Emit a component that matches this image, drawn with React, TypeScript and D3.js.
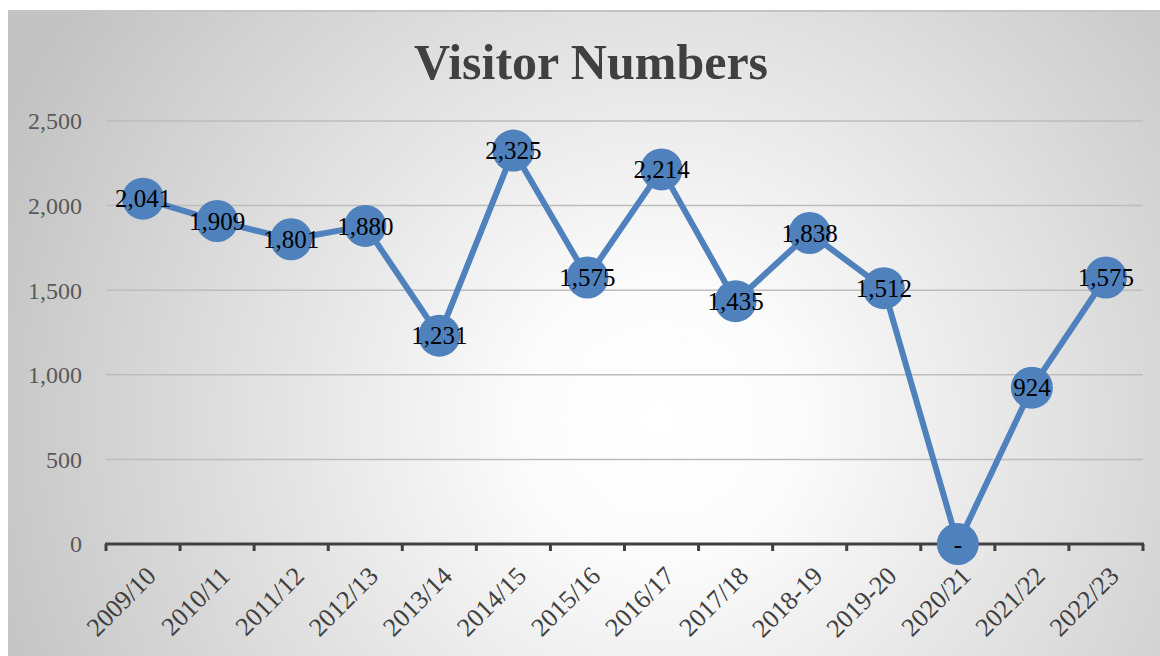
import React from 'react';
import * as d3 from 'd3';

const seasons = ['2009/10', '2010/11', '2011/12', '2012/13', '2013/14', '2014/15', '2015/16', '2016/17', '2017/18', '2018-19', '2019-20', '2020/21', '2021/22', '2022/23'];
const visitors = [2041, 1909, 1801, 1880, 1231, 2325, 1575, 2214, 1435, 1838, 1512, 0, 924, 1575];
const yTicks = [0, 500, 1000, 1500, 2000, 2500];

const W = 1160;
const H = 656;
const margin = { left: 106, right: 17, top: 121, bottom: 112 };
const serif = '"Liberation Serif", "Times New Roman", serif';

const fmt = (v: number) => (v === 0 ? '-' : d3.format(',')(v));

export default function App() {
  const x = d3.scaleBand().domain(seasons).range([margin.left, W - margin.right]);
  const y = d3.scaleLinear().domain([0, 2500]).range([H - margin.bottom, margin.top]);
  const cx = (s: string) => (x(s) ?? 0) + x.bandwidth() / 2;

  const line = d3
    .line<number>()
    .x((_, i) => cx(seasons[i]))
    .y((d) => y(d));

  const tickXs = seasons.map((s) => x(s) ?? 0).concat([W - margin.right]);
  const y0 = y(0);

  return (
    <svg width={W} height={H} style={{ position: 'fixed', left: 0, top: 0 }}>
      <defs>
        <radialGradient id="bg" gradientUnits="userSpaceOnUse" cx={660} cy={420} r={720}>
          <stop offset="0" stopColor="#ffffff" />
          <stop offset="0.2" stopColor="#fbfbfb" />
          <stop offset="1" stopColor="#c2c2c2" />
        </radialGradient>
      </defs>
      <rect x={0} y={0} width={W} height={H} fill="#ffffff" />
      <rect x={8} y={11} width={W - 8} height={H - 11} fill="url(#bg)" />
      <line x1={8} x2={W} y1={11} y2={11} stroke="#c4c4c4" strokeWidth={2} />

      <text x={591} y={79} textAnchor="middle" fontFamily={serif} fontWeight="bold" fontSize={50} fill="#404040">
        Visitor Numbers
      </text>

      {yTicks.map((t) => (
        <g key={t}>
          {t !== 0 && (
            <line x1={margin.left} x2={W - margin.right} y1={y(t)} y2={y(t)} stroke="#bdbdbd" strokeWidth={1.5} />
          )}
          <text x={82} y={y(t)} dy="0.35em" textAnchor="end" fontFamily={serif} fontSize={24} fill="#595959">
            {d3.format(',')(t)}
          </text>
        </g>
      ))}

      <line x1={margin.left - 1} x2={W - margin.right + 1} y1={y0} y2={y0} stroke="#404040" strokeWidth={3} />
      {tickXs.map((tx, i) => (
        <line key={i} x1={tx} x2={tx} y1={y0} y2={y0 + 7} stroke="#404040" strokeWidth={3} />
      ))}

      {seasons.map((s) => (
        <text
          key={s}
          transform={`translate(${cx(s) + 8},${y0 + 27}) rotate(-45)`}
          textAnchor="end"
          dy="0.35em"
          fontFamily={serif}
          fontSize={26}
          fill="#404040"
        >
          {s}
        </text>
      ))}

      <path d={line(visitors) ?? ''} fill="none" stroke="#4f81bd" strokeWidth={6} strokeLinejoin="round" />
      {visitors.map((v, i) => (
        <circle key={i} cx={cx(seasons[i])} cy={y(v)} r={21} fill="#4f81bd" />
      ))}
      {visitors.map((v, i) => (
        <text
          key={i}
          x={cx(seasons[i])}
          y={y(v)}
          dy="0.35em"
          textAnchor="middle"
          fontFamily={serif}
          fontSize={25}
          fill="#000000"
        >
          {fmt(v)}
        </text>
      ))}
    </svg>
  );
}
